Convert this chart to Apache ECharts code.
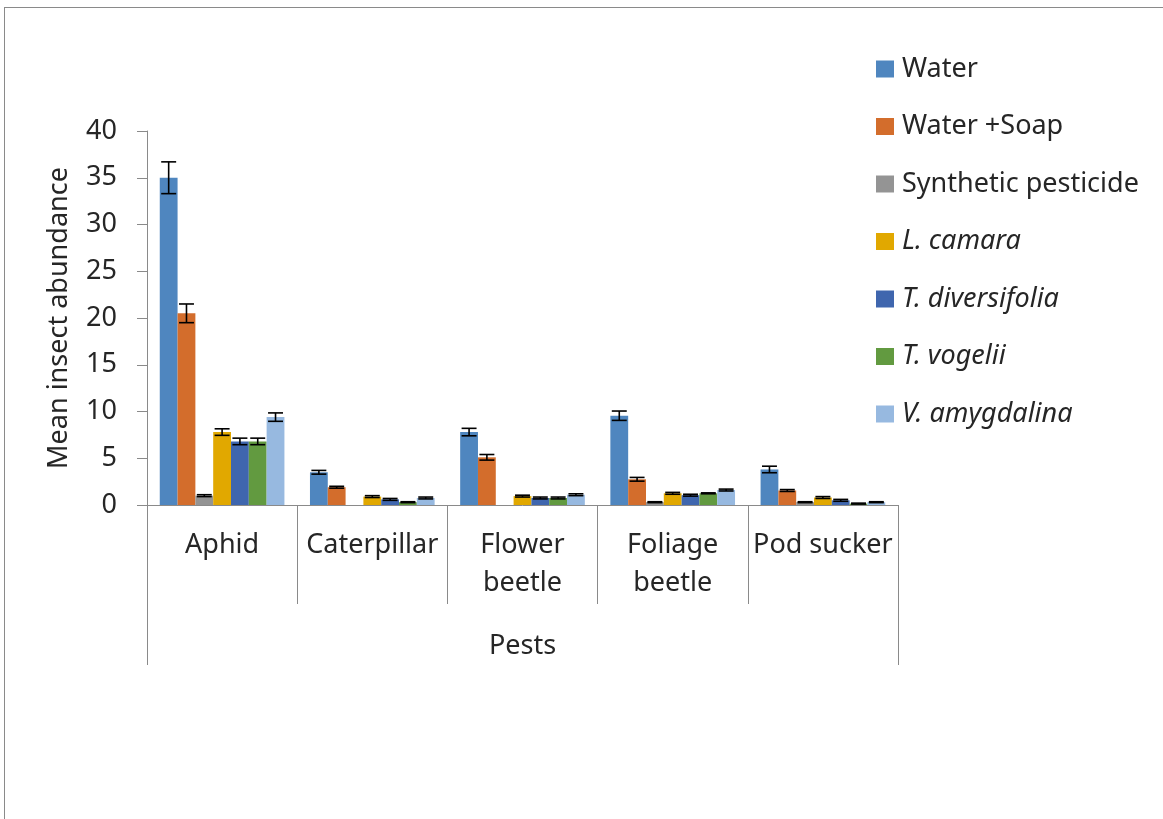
<!DOCTYPE html>
<html>
<head>
<meta charset="utf-8">
<script src="https://cdn.jsdelivr.net/npm/echarts@6/dist/echarts.min.js"></script>
<style>
html,body{margin:0;padding:0;background:#fff;}
#chart{position:absolute;left:0;top:0;width:1163px;height:819px;}
#frame{position:absolute;left:4px;top:7px;width:1200px;height:900px;border-left:1px solid #8a8a8a;border-top:1px solid #8a8a8a;pointer-events:none;}
</style>
</head>
<body>
<div id="chart"></div>
<div id="frame"></div>
<script>
var categories = ['Aphid', 'Caterpillar', 'Flower\nbeetle', 'Foliage\nbeetle', 'Pod sucker'];
var parentCategory = ['Pests'];
var seriesNames = ['Water', 'Water +Soap', 'Synthetic pesticide', 'L. camara', 'T. diversifolia', 'T. vogelii', 'V. amygdalina'];
var italicNames = ['L. camara', 'T. diversifolia', 'T. vogelii', 'V. amygdalina'];
var colors = ['#4F86BF', '#D36D2C', '#949494', '#E1A800', '#3F66AE', '#629A40', '#97B9E0'];

var water        = [35.0, 3.5, 7.8, 9.55, 3.8];
var waterSoap    = [20.5, 1.9, 5.1, 2.75, 1.55];
var synthetic    = [1.0, 0, 0, 0.3, 0.3];
var lCamara      = [7.8, 0.9, 0.95, 1.25, 0.8];
var tDiversifolia= [6.8, 0.6, 0.75, 1.05, 0.5];
var tVogelii     = [6.8, 0.3, 0.75, 1.25, 0.15];
var vAmygdalina  = [9.4, 0.75, 1.1, 1.6, 0.3];

var errWater        = [1.7, 0.2, 0.4, 0.5, 0.35];
var errWaterSoap    = [1.0, 0.1, 0.3, 0.2, 0.1];
var errSynthetic    = [0.1, 0, 0, 0.05, 0.05];
var errLCamara      = [0.35, 0.1, 0.1, 0.1, 0.1];
var errTDiversifolia= [0.35, 0.1, 0.1, 0.1, 0.1];
var errTVogelii     = [0.35, 0.05, 0.1, 0.05, 0.05];
var errVAmygdalina  = [0.45, 0.1, 0.1, 0.1, 0.05];

var yTicks = [0, 5, 10, 15, 20, 25, 30, 35, 40];

var values = [water, waterSoap, synthetic, lCamara, tDiversifolia, tVogelii, vAmygdalina];
var errors = [errWater, errWaterSoap, errSynthetic, errLCamara, errTDiversifolia, errTVogelii, errVAmygdalina];

var FONT = 'Noto Sans';
var FS = 27;
var TXT = '#262626';
var AXIS = '#8a8a8a';

var errData = [];
for (var s = 0; s < values.length; s++) {
  for (var c = 0; c < categories.length; c++) {
    if (errors[s][c] > 0) errData.push([c, s, values[s][c], errors[s][c]]);
  }
}

var BAR_CAT_GAP = '17%';
var series = values.map(function (v, i) {
  return {
    name: seriesNames[i],
    type: 'bar',
    data: v,
    barGap: '0%',
    barCategoryGap: BAR_CAT_GAP,
    itemStyle: { color: colors[i] },
    xAxisIndex: 0
  };
});
series.push({
  type: 'custom',
  name: 'errors',
  xAxisIndex: 0,
  data: errData,
  encode: { x: 0, y: 2 },
  z: 10,
  silent: true,
  renderItem: function (params, api) {
    var c = api.value(0), s = api.value(1), v = api.value(2), e = api.value(3);
    var layout = api.barLayout({ barGap: '0%', barCategoryGap: BAR_CAT_GAP, count: values.length });
    var center = api.coord([c, v]);
    var x = center[0] + layout[s].offsetCenter;
    var hi = api.coord([c, v + e])[1];
    var lo = api.coord([c, v - e])[1];
    var hw = layout[s].width * 0.42;
    var st = { stroke: '#000', lineWidth: 1.6 };
    return {
      type: 'group',
      children: [
        { type: 'line', shape: { x1: x, y1: hi, x2: x, y2: lo }, style: st },
        { type: 'line', shape: { x1: x - hw, y1: hi, x2: x + hw, y2: hi }, style: st },
        { type: 'line', shape: { x1: x - hw, y1: lo, x2: x + hw, y2: lo }, style: st }
      ]
    };
  }
});

var chart = echarts.init(document.getElementById('chart'), null, { renderer: 'canvas' });
chart.setOption({
  animation: false,
  backgroundColor: '#fff',
  textStyle: { fontFamily: FONT, color: TXT },
  grid: { left: 147, right: 265, top: 131, bottom: 314, containLabel: false },
  legend: {
    orient: 'vertical',
    left: 876,
    top: 54,
    padding: 0,
    itemWidth: 18,
    itemHeight: 17,
    itemGap: 27.5,
    icon: 'rect',
    data: seriesNames,
    formatter: function (name) {
      return italicNames.indexOf(name) >= 0 ? '{i|' + name + '}' : '{n|' + name + '}';
    },
    textStyle: {
      fontFamily: FONT, fontSize: FS, color: TXT, lineHeight: 30,
      rich: {
        n: { fontFamily: FONT, fontSize: FS, color: TXT, lineHeight: 30, padding: [0, 0, 0, 3] },
        i: { fontFamily: FONT, fontSize: FS, color: TXT, lineHeight: 30, fontStyle: 'italic', padding: [0, 0, 0, 3] }
      }
    }
  },
  xAxis: [
    {
      type: 'category',
      data: categories,
      position: 'bottom',
      axisLine: { show: true, lineStyle: { color: AXIS, width: 1 } },
      axisTick: { show: true, length: 99, interval: 0, lineStyle: { color: AXIS } },
      axisLabel: { interval: 0, fontFamily: FONT, fontSize: FS, color: TXT, lineHeight: 38, margin: 21 }
    },
    {
      type: 'category',
      data: parentCategory,
      position: 'bottom',
      gridIndex: 0,
      axisLine: { show: false },
      axisTick: { show: true, length: 160, interval: 0, lineStyle: { color: AXIS } },
      axisLabel: { interval: 0, fontFamily: FONT, fontSize: FS, color: TXT, margin: 128 }
    }
  ],
  yAxis: {
    type: 'value',
    min: 0,
    max: 40,
    interval: 5,
    name: 'Mean insect abundance',
    nameLocation: 'middle',
    nameGap: 74,
    nameTextStyle: { fontFamily: FONT, fontSize: FS, color: TXT },
    axisLine: { show: true, lineStyle: { color: AXIS, width: 1 } },
    axisTick: { show: true, length: 10, lineStyle: { color: AXIS } },
    splitLine: { show: false },
    axisLabel: {
      fontFamily: FONT, fontSize: FS, color: TXT, margin: 30,
      formatter: function (v) { return yTicks.indexOf(v) >= 0 ? String(v) : ''; }
    }
  },
  series: series
});
</script>
</body>
</html>
